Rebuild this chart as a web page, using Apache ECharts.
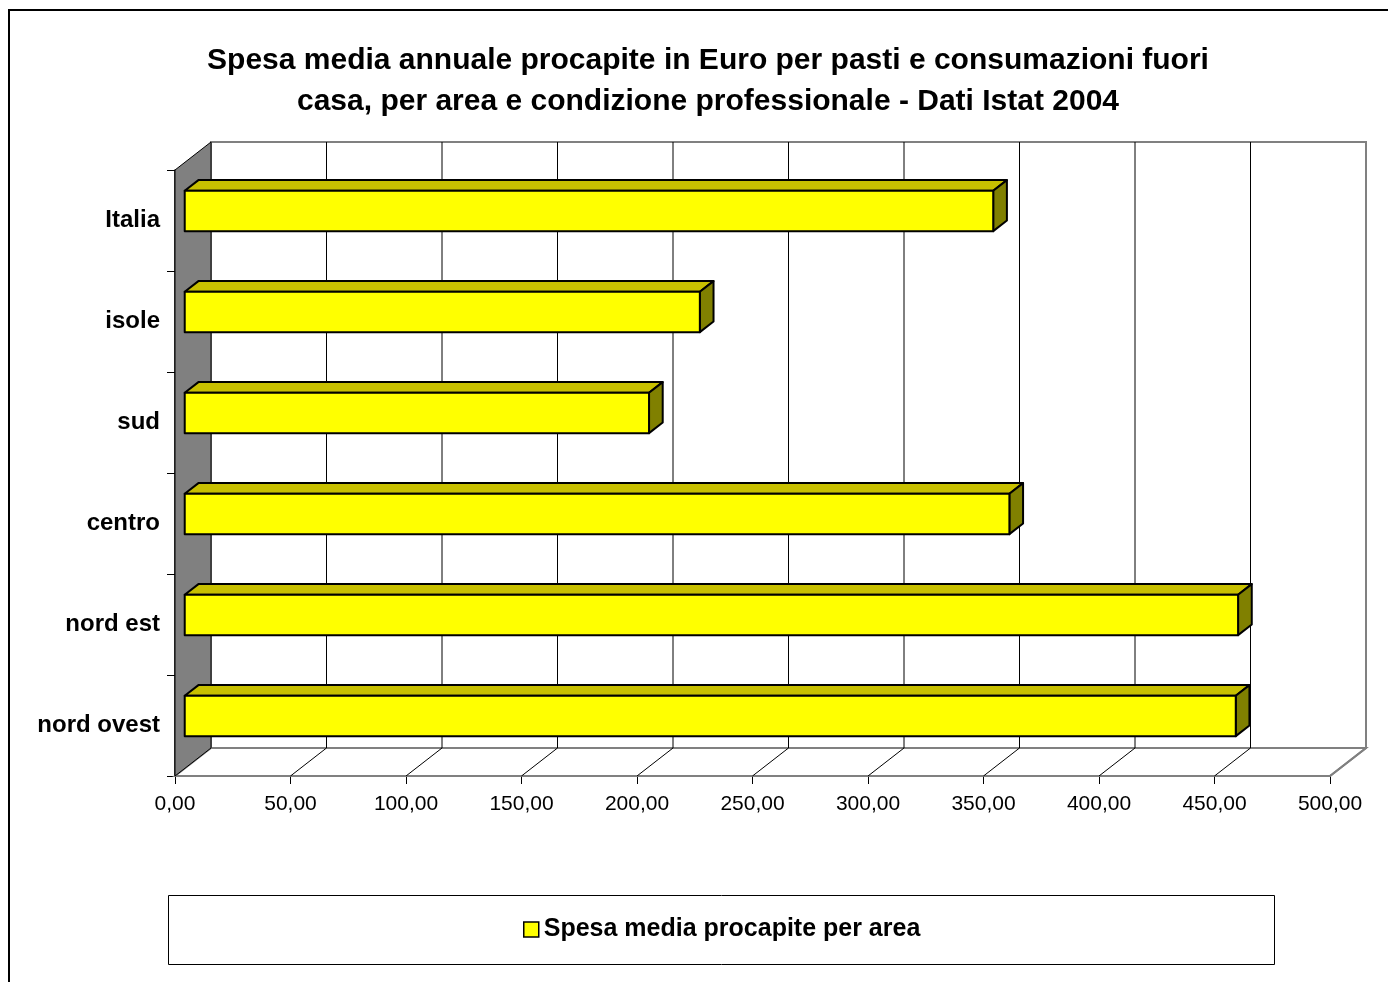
<!DOCTYPE html>
<html>
<head>
<meta charset="utf-8">
<script src="https://cdn.jsdelivr.net/npm/echarts@6/dist/echarts.min.js"></script>
<style>html,body{margin:0;padding:0;background:#fff;}#c{width:1388px;height:982px;}</style>
</head>
<body>
<div id="c"></div>
<script>
const categories = ['nord ovest', 'nord est', 'centro', 'sud', 'isole', 'Italia'];
const values = [455, 456, 357, 201, 223, 350];
const xTicks = [0, 50, 100, 150, 200, 250, 300, 350, 400, 450, 500];
const seriesName = 'Spesa media procapite per area';
const titleText = 'Spesa media annuale procapite in Euro per pasti e consumazioni fuori\ncasa, per area e condizione professionale - Dati Istat 2004';

const DX = 36, DY = -28;      // full depth offset
const FD = 0.27, BD = 0.65;   // bar front / back depth fractions

const chart = echarts.init(document.getElementById('c'), null, {renderer: 'canvas'});

function wallRender(params, api) {
  const bandH = api.size([0, 1])[1];
  const xs = xTicks.map(v => api.coord([v, 0])[0]);
  const x0 = xs[0], xN = xs[xs.length - 1];
  const yTop = api.coord([0, categories.length - 1])[1] - bandH / 2;
  const yBot = api.coord([0, 0])[1] + bandH / 2;
  const children = [];
  children.push({type: 'polygon', shape: {points: [[x0, yBot], [x0 + DX, yBot + DY], [xN + DX, yBot + DY], [xN, yBot]]},
    style: {fill: '#ffffff', stroke: '#808080', lineWidth: 2}});
  children.push({type: 'rect', shape: {x: x0 + DX, y: yTop + DY, width: xN - x0, height: yBot - yTop},
    style: {fill: 'none', stroke: '#808080', lineWidth: 2}});
  xs.forEach((x, i) => {
    if (i > 0 && i < xs.length - 1) {
      children.push({type: 'line', shape: {x1: x + DX, y1: yTop + DY, x2: x + DX, y2: yBot + DY},
        style: {stroke: '#000', lineWidth: 1}});
    }
    if (i > 0) {
      children.push({type: 'line', shape: {x1: x, y1: yBot, x2: x + DX, y2: yBot + DY},
        style: {stroke: i === xs.length - 1 ? '#808080' : '#000', lineWidth: i === xs.length - 1 ? 2 : 1}});
    }
  });
  children.push({type: 'polygon', shape: {points: [[x0, yTop], [x0 + DX, yTop + DY], [x0 + DX, yBot + DY], [x0, yBot]]},
    style: {fill: '#808080', stroke: '#000', lineWidth: 1}});
  return {type: 'group', children: children};
}

function barRender(params, api) {
  const v = api.value(0), idx = api.value(1);
  const bandH = api.size([0, 1])[1];
  const p0 = api.coord([0, idx]);
  const p1 = api.coord([v, idx]);
  const h = bandH * 0.4;
  const fx = FD * DX, fy = FD * DY;
  const bx = (BD - FD) * DX, by = (BD - FD) * DY;
  const x0 = p0[0] + fx, x1 = p1[0] + fx;
  const cy = p0[1] + fy - 2;
  const top = cy - h / 2, bot = cy + h / 2;
  const st = {stroke: '#000', lineWidth: 2, lineJoin: 'round'};
  return {type: 'group', children: [
    {type: 'polygon', shape: {points: [[x0, top], [x0 + bx, top + by], [x1 + bx, top + by], [x1, top]]},
      style: Object.assign({fill: '#C8C000'}, st)},
    {type: 'polygon', shape: {points: [[x1, top], [x1 + bx, top + by], [x1 + bx, bot + by], [x1, bot]]},
      style: Object.assign({fill: '#808000'}, st)},
    {type: 'rect', shape: {x: x0, y: top, width: x1 - x0, height: h},
      style: Object.assign({fill: '#FFFF00'}, st)}
  ]};
}

const option = {
  backgroundColor: '#ffffff',
  animation: false,
  title: {
    text: titleText,
    left: 703, top: 35, textAlign: 'center',
    textStyle: {fontFamily: 'Liberation Sans, Arial, sans-serif', fontSize: 30, fontWeight: 'bold', color: '#000', lineHeight: 41}
  },
  graphic: [
    {type: 'rect', shape: {x: 9, y: 10, width: 1400, height: 1000}, style: {fill: 'none', stroke: '#000', lineWidth: 2}, z: -10},
    {type: 'rect', shape: {x: 168.5, y: 895.5, width: 1106, height: 69}, style: {fill: '#fff', stroke: '#000', lineWidth: 1}, z: -5}
  ],
  legend: {
    data: [{name: seriesName, itemStyle: {color: '#FFFF00', borderColor: '#000', borderWidth: 1.5}}],
    left: 518, top: 912,
    icon: 'rect', itemWidth: 15, itemHeight: 15, itemGap: 8,
    textStyle: {fontFamily: 'Liberation Sans, Arial, sans-serif', fontSize: 25, fontWeight: 'bold', color: '#000'}
  },
  grid: {left: 175, right: 58, top: 170, bottom: 206, containLabel: false},
  xAxis: {
    type: 'value', min: 0, max: 500, interval: 50,
    axisLine: {show: true, lineStyle: {color: '#000', width: 1.5}},
    axisTick: {show: true, length: 8, lineStyle: {color: '#000'}},
    splitLine: {show: false},
    axisLabel: {margin: 18, color: '#000', fontFamily: 'Liberation Sans, Arial, sans-serif', fontSize: 21,
      formatter: v => v.toFixed(2).replace('.', ',')}
  },
  yAxis: {
    type: 'category', data: categories,
    axisLine: {show: true, lineStyle: {color: '#000', width: 1.5}},
    axisTick: {show: true, length: 8, lineStyle: {color: '#000'}},
    axisLabel: {margin: 15, color: '#000', fontFamily: 'Liberation Sans, Arial, sans-serif', fontSize: 24, fontWeight: 'bold'}
  },
  series: [
    {type: 'custom', name: 'walls', renderItem: wallRender, data: [[0, 0]], silent: true, z: 1, encode: {x: 0, y: 1}},
    {type: 'custom', name: seriesName, renderItem: barRender, z: 5,
      itemStyle: {color: '#FFFF00', borderColor: '#000'},
      data: values.map((v, i) => [v, i]), encode: {x: 0, y: 1}}
  ]
};
chart.setOption(option);
</script>
</body>
</html>
